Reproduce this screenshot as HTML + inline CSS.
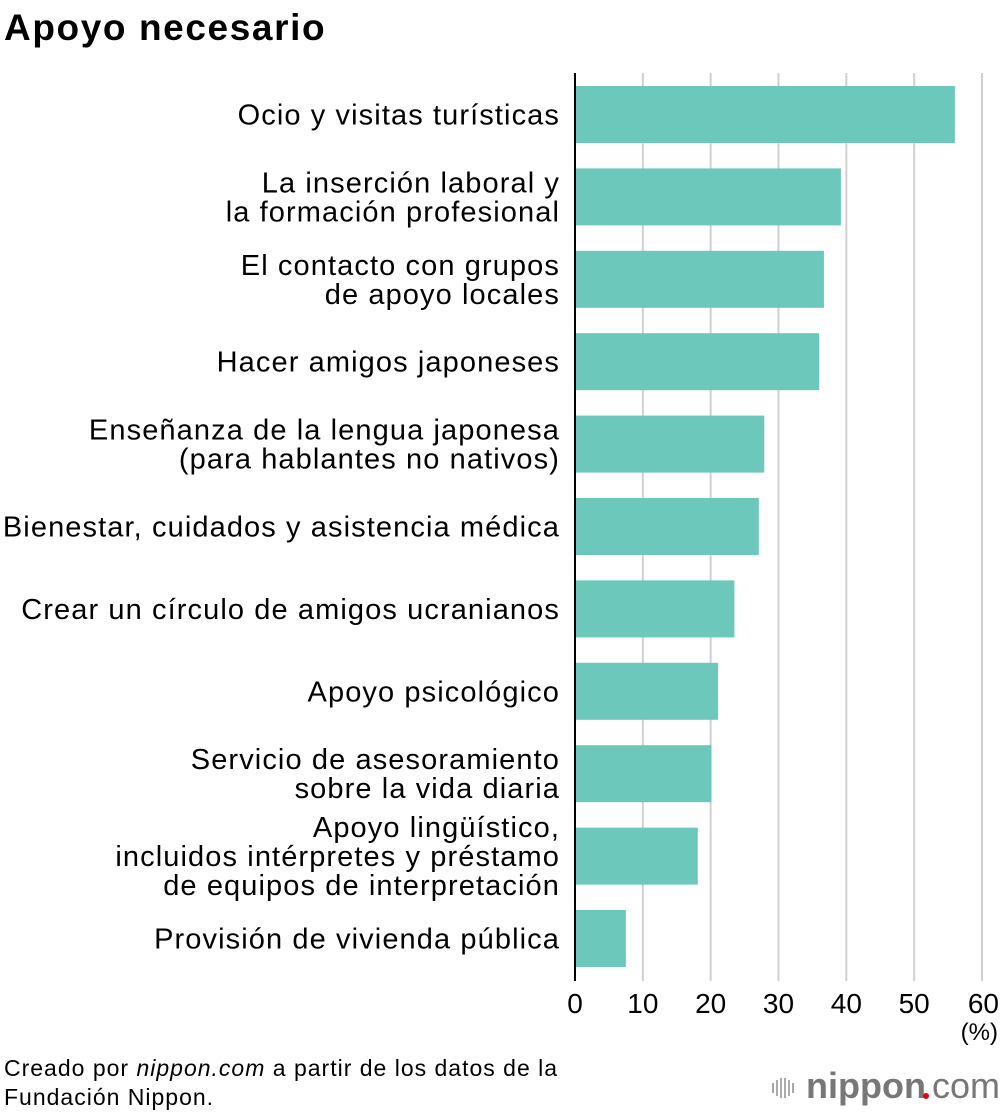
<!DOCTYPE html>
<html><head><meta charset="utf-8"><style>
body{margin:0;background:#fff;width:1000px;height:1112px;overflow:hidden;font-family:"Liberation Sans",Arial,sans-serif;}
</style></head><body>
<svg id="chart" width="1000" height="1112" xmlns="http://www.w3.org/2000/svg" font-family="Liberation Sans, Arial, sans-serif">
<text x="4" y="40" font-size="37" font-weight="bold" letter-spacing="1.6" fill="#000">Apoyo necesario</text>
<g id="grid"></g>
<g id="bars"></g>
<g id="labels"></g>
<g id="ticks"></g>
<line x1="575" y1="73" x2="575" y2="981" stroke="#000" stroke-width="2"/>
<text x="998" y="1040" font-size="24" text-anchor="end">(%)</text>
<text x="4" y="1076" font-size="23" letter-spacing="1">Creado por <tspan font-style="italic">nippon.com</tspan> a partir de los datos de la</text>
<text x="4" y="1105" font-size="23" letter-spacing="1">Fundación Nippon.</text>
<g>
<g stroke="#aaa" stroke-width="2"><line x1="773" y1="1083" x2="773" y2="1093"/><line x1="777" y1="1080" x2="777" y2="1096"/><line x1="781" y1="1078" x2="781" y2="1098"/><line x1="785" y1="1078" x2="785" y2="1098"/><line x1="789" y1="1080" x2="789" y2="1096"/><line x1="793" y1="1083" x2="793" y2="1093"/></g>
<text x="806" y="1098" font-size="36" font-weight="bold" fill="#777">nippon</text>
<circle cx="926" cy="1096" r="3" fill="#e60012"/>
<text x="932" y="1098" font-size="36" fill="#777">com</text>
</g>
</svg>
<script>
const categories=[["Ocio y visitas turísticas"],["La inserción laboral y","la formación profesional"],["El contacto con grupos","de apoyo locales"],["Hacer amigos japoneses"],["Enseñanza de la lengua japonesa","(para hablantes no nativos)"],["Bienestar, cuidados y asistencia médica"],["Crear un círculo de amigos ucranianos"],["Apoyo psicológico"],["Servicio de asesoramiento","sobre la vida diaria"],["Apoyo lingüístico,","incluidos intérpretes y préstamo","de equipos de interpretación"],["Provisión de vivienda pública"]];
const values=[56,39.2,36.7,36,27.9,27.1,23.5,21.1,20.1,18.1,7.5];
const tickValues=[0,10,20,30,40,50,60];
const NS="http://www.w3.org/2000/svg";
const x=v=>575+v*(982-575)/60;
const yTop=i=>86+i*82.4;
const barH=57;
function mk(t,a,p){const e=document.createElementNS(NS,t);for(const k in a)e.setAttribute(k,a[k]);p.appendChild(e);return e;}
const grid=document.getElementById('grid'),bars=document.getElementById('bars'),labels=document.getElementById('labels'),ticks=document.getElementById('ticks');
tickValues.forEach(v=>{
 if(v>0){const l=mk('line',{x1:x(v),y1:73,x2:x(v),y2:981,stroke:'#d0d0d0','stroke-width':2},grid);
 
 }
 const t=mk('text',{x:x(v),y:1013,'font-size':28,'text-anchor':v===60?'end':'middle'},ticks);
 if(v===60)t.setAttribute('x',x(v)+17);
 t.textContent=v;
 
 
});
values.forEach((v,i)=>{
 const r=mk('rect',{x:575,y:yTop(i),width:x(v)-575,height:barH,fill:'#6bc8bb'},bars);
 
 
 const lines=categories[i];const n=lines.length;const cy=yTop(i)+barH/2;
 lines.forEach((s,j)=>{
  const t=mk('text',{x:560,y:cy+(j-(n-1)/2)*29+10,'font-size':29,'letter-spacing':1.1,'text-anchor':'end',fill:'#000'},labels);
  t.textContent=s;
  
  
 });
});
</script>
</body></html>
